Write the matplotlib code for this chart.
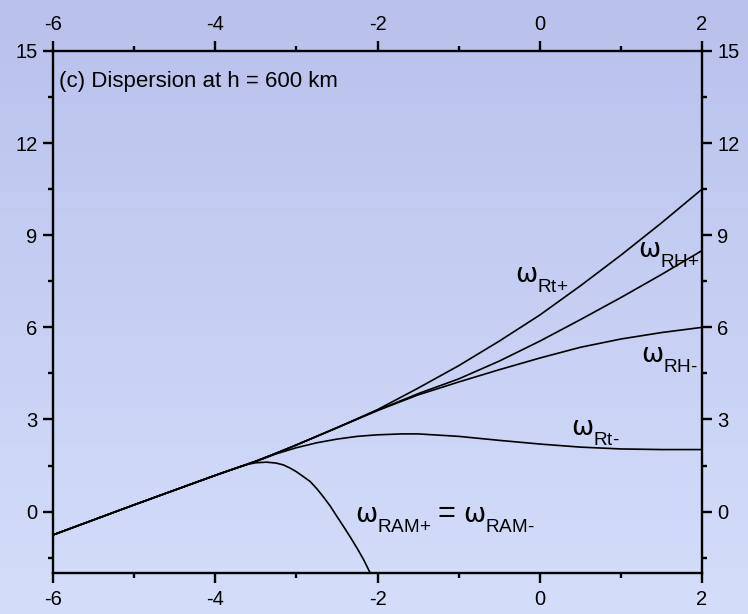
import numpy as np
import matplotlib
matplotlib.use("Agg")
import matplotlib.pyplot as plt
from matplotlib.ticker import MultipleLocator
from matplotlib import font_manager

# ---------------- data ----------------
x_shared = [-6.0, -5.5, -5.0, -4.5, -4.0, -3.75]
y_shared = [-0.76, -0.27, 0.22, 0.70, 1.18, 1.41]

x_upper = [-3.5, -3.25, -3.0, -2.5, -2.0, -1.5, -1.0, -0.5, 0.0, 0.5, 1.0, 1.5, 2.0]
y_rt_plus = [1.64, 1.90, 2.17, 2.73, 3.32, 4.02, 4.75, 5.55, 6.40, 7.35, 8.35, 9.40, 10.50]
y_rh_plus = [1.64, 1.90, 2.17, 2.73, 3.30, 3.84, 4.32, 4.90, 5.55, 6.25, 6.97, 7.72, 8.50]
y_rh_minus = [1.64, 1.90, 2.17, 2.73, 3.29, 3.80, 4.22, 4.62, 5.00, 5.35, 5.62, 5.83, 6.00]

x_rt_minus = [-3.5, -3.25, -3.0, -2.75, -2.5, -2.25, -2.0, -1.7, -1.5, -1.0, -0.5, 0.0, 0.5, 1.0, 1.5, 2.0]
y_rt_minus = [1.63, 1.88, 2.08, 2.24, 2.36, 2.45, 2.50, 2.53, 2.53, 2.45, 2.32, 2.20, 2.10, 2.04, 2.02, 2.02]

x_ram = [-3.6, -3.5, -3.37, -3.25, -3.16, -3.08, -3.0, -2.92, -2.83, -2.75, -2.67, -2.58,
         -2.50, -2.42, -2.34, -2.25, -2.17, -2.09]
y_ram = [1.54, 1.59, 1.61, 1.58, 1.52, 1.42, 1.30, 1.15, 0.98, 0.75, 0.49, 0.17,
         -0.16, -0.48, -0.81, -1.20, -1.57, -2.00]

x_ticks = [-6, -4, -2, 0, 2]
y_ticks = [0, 3, 6, 9, 12, 15]
title_text = "(c) Dispersion at h = 600 km"

# ---------------- fonts ----------------
installed = {f.name for f in font_manager.fontManager.ttflist}
SANS = "Liberation Sans"
NARROW = "Liberation Sans Narrow" if "Liberation Sans Narrow" in installed else SANS
plt.rcParams["mathtext.fontset"] = "custom"
plt.rcParams["mathtext.rm"] = NARROW
plt.rcParams["mathtext.it"] = "DejaVu Sans"
plt.rcParams["mathtext.bf"] = "DejaVu Sans:bold"

# larger, lower subscripts (as in the reference)
try:
    import matplotlib._mathtext as _mt
    _mt.SHRINK_FACTOR = 0.72
    classes = {_mt.FontConstantsBase}
    classes.update(getattr(_mt, "_font_constant_mapping", {}).values())
    for c in classes:
        c.sub1 = 0.72
except Exception:
    pass

# ---------------- figure ----------------
W, H, DPI = 748, 614, 100
fig = plt.figure(figsize=(W / DPI, H / DPI), dpi=DPI)

bg = fig.add_axes([0, 0, 1, 1], zorder=-10)
top = np.array([185, 193, 236]) / 255.0
bot = np.array([212, 222, 250]) / 255.0
t = np.linspace(0, 1, 256)[:, None]
grad = (top[None, :] * (1 - t) + bot[None, :] * t)[:, None, :]
bg.imshow(grad, aspect="auto", extent=[0, 1, 0, 1], origin="upper")
bg.set_axis_off()

ax = fig.add_axes([53 / W, 41 / H, (702 - 53) / W, (573 - 51) / H])
ax.patch.set_alpha(0)

lw = 1.2
def join(xa, ya, xb, yb):
    return list(xa) + list(xb), list(ya) + list(yb)

for yy in (y_rt_plus, y_rh_plus, y_rh_minus):
    xs, ys = join(x_shared, y_shared, x_upper, yy)
    ax.plot(xs, ys, color="black", lw=lw)
xs, ys = join(x_shared, y_shared, x_rt_minus, y_rt_minus)
ax.plot(xs, ys, color="black", lw=lw)
xs, ys = join(x_shared, y_shared, x_ram, y_ram)
ax.plot(xs, ys, color="black", lw=lw)

ax.set_xlim(-6, 2)
ax.set_ylim(-2, 15)
ax.set_xticks(x_ticks)
ax.set_yticks(y_ticks)
ax.set_xticklabels([str(v) for v in x_ticks])
ax.set_yticklabels([str(v) for v in y_ticks])
ax.xaxis.set_minor_locator(MultipleLocator(1))
ax.yaxis.set_minor_locator(MultipleLocator(1.5))

for s in ax.spines.values():
    s.set_linewidth(1.7)
ax.tick_params(which="both", direction="out", top=True, right=True,
               labeltop=True, labelright=True, width=1.7)
ax.tick_params(which="major", length=7)
ax.tick_params(which="minor", length=3.5)
ax.tick_params(axis="x", which="major", pad=5)
ax.tick_params(axis="y", which="major", pad=4)
for lab in ax.get_xticklabels() + ax.get_yticklabels():
    lab.set_fontfamily(SANS)
    lab.set_fontsize(14.5)

ax.text(0.009, 0.962, title_text, transform=ax.transAxes, ha="left", va="top",
        family=SANS, fontsize=16)

FS = 19
def omega_label(x, y, sub):
    ax.text(x, y, r"$\omega_{\text{%s}}$" % sub, fontsize=FS,
            ha="left", va="baseline")

# x = left edge of omega, y = baseline of omega
omega_label(-0.31, 7.48, "Rt+")
omega_label(1.21, 8.30, "RH+")
omega_label(1.25, 4.88, "RH-")
omega_label(0.38, 2.50, "Rt-")
omega_label(-2.28, -0.34, "RAM+")
ax.text(-1.26, -0.34, "=", family=SANS, fontsize=22, ha="left", va="baseline")
omega_label(-0.95, -0.34, "RAM-")

fig.savefig("out.png", dpi=DPI)
